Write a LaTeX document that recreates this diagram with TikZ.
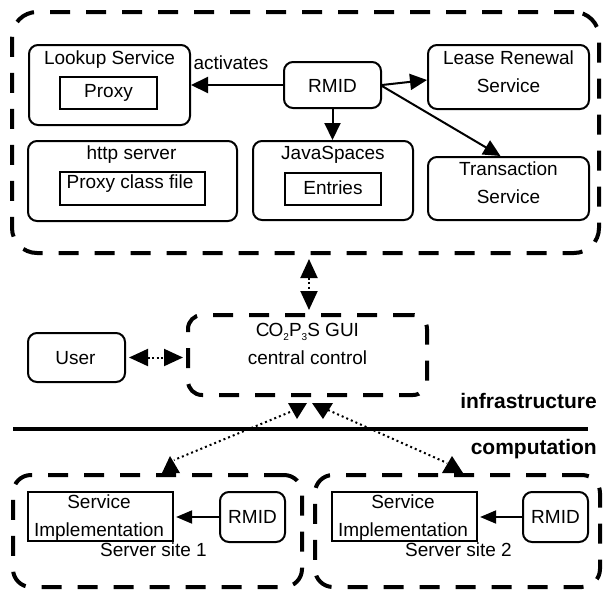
\documentclass[tikz,border=0pt]{standalone}
\usepackage{fontspec}
\setmainfont{Liberation Sans}
\usetikzlibrary{arrows.meta,calc}
\newcommand{\lowsub}[1]{\raisebox{-4pt}{\fontsize{10pt}{10pt}\selectfont #1}}
\begin{document}
\begin{tikzpicture}[x=1pt,y=-1pt,
  every node/.style={font=\fontsize{19pt}{28.5pt}\selectfont},
  box/.style={draw, line width=2pt, rounded corners=9pt, inner sep=0pt},
  rbox/.style={draw, line width=2.2pt, inner sep=0pt},
  dbox/.style={draw, line width=4pt, dash pattern=on 20pt off 16pt, inner sep=0pt},
  txt/.style={inner sep=0pt, text height=13.6pt, text depth=0pt, align=center},
  lbl/.style={inner sep=0pt, text height=14pt, text depth=0pt, anchor=east, font=\fontsize{21pt}{25pt}\selectfont\bfseries},
  arr/.style={line width=2pt, -{Triangle[length=17pt,width=16pt]}},
  sarr/.style={line width=2pt, -{Triangle[length=16pt,width=13pt]}},
  darr/.style={line width=2pt, dash pattern=on 2pt off 2.5pt,
     {Triangle[length=19pt,width=17pt]}-{Triangle[length=19pt,width=17pt]}},
  dline/.style={line width=2pt, dash pattern=on 2pt off 3pt},
  head/.style={fill=black}
]
\useasboundingbox (0,0) rectangle (603,592);
\fill[white] (0,0) rectangle (603,592);

% big infrastructure box
\node[dbox, rounded corners=25pt, minimum width=587pt, minimum height=241pt] (big) at (305.5,132.5) {};

% Lookup service
\node[box, minimum width=161pt, minimum height=80pt] (lookup) at (109.5,85) {};
\node[txt] (lookupT) at (109.5,57.5) {Lookup Service};
\node[rbox, minimum width=97pt, minimum height=32pt] (proxy) at (108.5,93) {};
\node[txt] (proxyT) at (108.5,90.5) {Proxy};

% RMID
\node[box, minimum width=97pt, minimum height=46pt] (rmid) at (332.5,85) {};
\node[txt] (rmidT) at (332.5,86) {RMID};
\node[txt] (act) at (231,63) {activates};

% Lease renewal (multi-line nodes are placed at the visual centre of their last line)
\node[box, minimum width=161pt, minimum height=64pt] (lease) at (508.5,77) {};
\node[txt] (leaseT) at (508.5,86) {Lease Renewal\\Service};

% Transaction
\node[box, minimum width=161pt, minimum height=63pt] (trans) at (508.5,188.5) {};
\node[txt] (transT) at (508.5,197) {Transaction\\Service};

% JavaSpaces
\node[box, minimum width=160pt, minimum height=79pt] (java) at (333,180.5) {};
\node[txt] (javaT) at (333,153) {JavaSpaces};
\node[rbox, minimum width=96pt, minimum height=32pt] (entries) at (333,189) {};
\node[txt] (entriesT) at (333,187.5) {Entries};

% http server
\node[box, minimum width=209pt, minimum height=80pt] (http) at (132.5,181) {};
\node[txt] (httpT) at (131.5,153) {http server};
\node[rbox, minimum width=145pt, minimum height=33pt] (pcf) at (132.5,188.5) {};
\node[txt] (pcfT) at (130,182) {Proxy class file};

% arrows in the top box
\draw[arr] (rmid.west) -- (lookup.east |- rmid.west);
\draw[arr] (rmid.east) -- ([yshift=-3pt]lease.west);
\draw[arr] ([yshift=-1pt]rmid.east) -- ([xshift=-8pt]trans.north);
\draw[arr] (rmid.south) -- (java.north -| rmid.south);

% GUI
\node[dbox, rounded corners=14pt, minimum width=239pt, minimum height=80pt] (gui) at (307.5,355) {};
\node[txt] (guiT) at (307.5,358) {C\kern-1ptO\lowsub{2}P\lowsub{3}S GUI\\central control};

% User
\node[box, minimum width=97pt, minimum height=49pt] (user) at (76.5,357.5) {};
\node[txt] (userT) at (75.5,358) {User};

\draw[darr] ($(big.south)+(3.5,4)$) -- ($(gui.north)+(1.5,-3)$);
\draw[darr, shorten <=3pt, shorten >=3pt] (user.east) -- (gui.west |- user.east);

% labels and separator
\node[lbl] (infra) at (597,401) {infrastructure};
\node[lbl] (comp) at (597,447) {computation};
\coordinate (sepL) at (13,429);
\coordinate (sepR) at (588,429);
\draw[line width=3.6pt] (sepL) -- (sepR);

% server sites
\node[dbox, rounded corners=18pt, minimum width=289pt, minimum height=112pt] (s1) at (157.5,531) {};
\node[dbox, rounded corners=18pt, minimum width=285pt, minimum height=112pt] (s2) at (457.5,531) {};

\node[rbox, minimum width=145pt, minimum height=49pt] (si1) at (100.5,516.5) {};
\node[txt] (si1T) at (99,530) {Service\\Implementation};
\node[box, minimum width=65pt, minimum height=50pt] (r1) at (252.5,517) {};
\node[txt] (r1T) at (252.5,517) {RMID};
\node[txt] (s1T) at (153.5,550) {Server site 1};
\draw[sarr, shorten >=2pt] (r1.west) -- (si1.east |- r1.west);

\node[rbox, minimum width=145pt, minimum height=49pt] (si2) at (404.5,516.5) {};
\node[txt] (si2T) at (403,530) {Service\\Implementation};
\node[box, minimum width=65pt, minimum height=50pt] (r2) at (555.5,517) {};
\node[txt] (r2T) at (555.5,517) {RMID};
\node[txt] (s2T) at (458.5,550) {Server site 2};
\draw[sarr, shorten >=2pt] (r2.west) -- (si2.east |- r2.west);

% dotted links GUI <-> server sites
\draw[dline] ($(gui.south)+(-17.5,15)$) -- ($(s1.north)+(16.5,-13)$);
\draw[dline] ($(gui.south)+(20.5,13)$) -- ($(s2.north)+(-10.5,-10)$);
\fill[head] ($(gui.south)+(-19.5,6)$) -- ($(gui.south)+(-0.5,6)$) -- ($(gui.south)+(-10.5,22)$) -- cycle;
\fill[head] ($(gui.south)+(4.5,6)$) -- ($(gui.south)+(25.5,6)$) -- ($(gui.south)+(15.5,22)$) -- cycle;
\fill[head] ($(s1.north)+(4.5,0)$) -- ($(s1.north)+(22.5,0)$) -- ($(s1.north)+(12.5,-17)$) -- cycle;
\fill[head] ($(s2.north)+(-15.5,0)$) -- ($(s2.north)+(5.5,0)$) -- ($(s2.north)+(-5.5,-17)$) -- cycle;
\end{tikzpicture}
\end{document}
